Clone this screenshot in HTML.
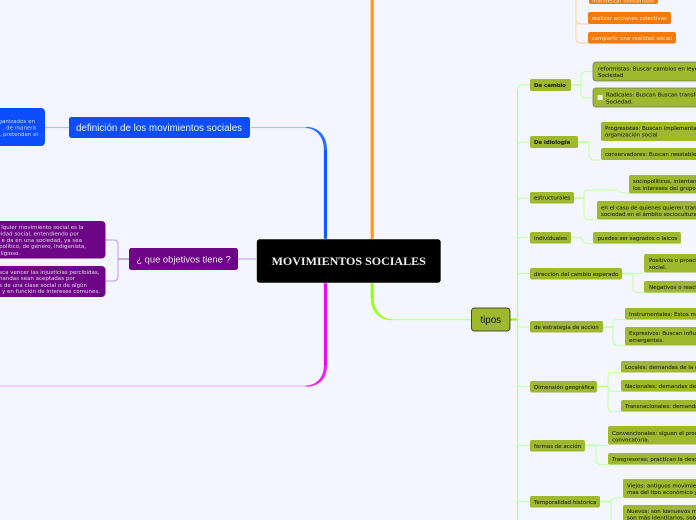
<!DOCTYPE html>
<html><head><meta charset="utf-8"><style>
html,body{margin:0;padding:0;width:696px;height:520px;overflow:hidden;background:#f4f6ff}
svg{display:block}
text{font-family:"DejaVu Sans",sans-serif;white-space:pre}
.g rect{fill:#9fb82e}
.gt text{fill:#20240c;font-size:5.5px;stroke:#20240c;stroke-width:.08}
.gt text.gb{font-weight:bold;font-size:5.4px}
.w text{fill:#e6d6ee;font-size:5.5px}
.c{fill:none;stroke:#c9ffa9;stroke-width:1.2}
</style></head><body>
<svg width="696" height="520" viewBox="0 0 696 520" xmlns="http://www.w3.org/2000/svg">
<rect width="696" height="520" fill="#f4f6ff"/>
<!-- main branches -->
<path d="M306 127.500H251" fill="none" stroke="#a8c4ff" stroke-width="1.200"/>
<path d="M325.500 239V150" fill="none" stroke="#0b5cff" stroke-width="3.200"/>
<path d="M327.100 150C327.100 135 318 126.900 306 126.900L306 128.100C316 128.100 323.900 137 323.900 150Z" fill="#2a6fff"/>
<path d="M372.200 0V239" fill="none" stroke="#ff9a14" stroke-width="3.200"/>
<path d="M389 319.500H471" fill="none" stroke="#c9ffa9" stroke-width="1.400"/>
<path d="M372.200 283V298" fill="none" stroke="#8cff00" stroke-width="3"/>
<path d="M370.700 298C370.700 312 380 320.100 391 320.100L391 318.900C382 318.900 373.700 310 373.700 298Z" fill="#9aff20"/>
<path d="M308 386H0" fill="none" stroke="#f6b4fa" stroke-width="1.300"/>
<path d="M325.500 283V365" fill="none" stroke="#f000f5" stroke-width="3.200"/>
<path d="M327.100 365C327.100 380 318 386.600 306 386.600L306 385.400C316 385.400 323.900 378 323.900 365Z" fill="#f020f5"/>
<path d="M238 259H256" fill="none" stroke="#c9a8f0" stroke-width="1.200"/>
<!-- left connectors -->
<path d="M45 127.500H69" fill="none" stroke="#a8c4ff" stroke-width="1.200"/>
<path d="M105 240H114Q118 240 118 244V276Q118 281 114 281H105" fill="none" stroke="#c9a8f0" stroke-width="1.200"/>
<path d="M118 259H129" fill="none" stroke="#b48ae8" stroke-width="1.400"/>
<!-- orange connectors -->
<path d="M576 0V19Q576 24 581 24H589M576 19V38Q576 43 581 43H590" fill="none" stroke="#fcd7a6" stroke-width="1.200"/>
<!-- green trunk -->
<path d="M510 319.500H517.500" fill="none" stroke="#8cff00" stroke-width="2"/>
<path d="M517.500 90Q517.500 85 522 85H530" class="c"/>
<path d="M517.500 90V520" fill="none" stroke="#b6ff7a" stroke-width="1.300"/>
<path class="c" d="M517.500 146Q517.500 142 522 142H530M517.500 202Q517.500 198 522 198H530M517.500 241Q517.500 237.500 522 237.500H530M517.500 277Q517.500 273.500 522 273.500H530M517.500 323Q517.500 327 522 327H530M517.500 383Q517.500 386.500 522 386.500H530M517.500 442Q517.500 445.500 522 445.500H530M517.500 498Q517.500 501.500 522 501.500H530"/>
<!-- secondary connectors -->
<path d="M571 85H581" stroke="#c9ffa9" stroke-width="2" fill="none"/>
<path class="c" d="M581 85V76Q581 71.500 586 71.500H593M581 85V93Q581 98 586 98H593"/>
<path d="M578 142H589" stroke="#c9ffa9" stroke-width="2" fill="none"/>
<path class="c" d="M589 142V155Q589 160 594 160H601"/>
<path d="M574 198H584" stroke="#c9ffa9" stroke-width="2" fill="none"/>
<path class="c" d="M584 198V194Q584 190 589 190H616Q621 193.500 629 193.500M584 198V214Q584 219.500 589 219.500H597"/>
<path class="c" d="M571 237.500H581Q583 243.500 588 243.500H682"/>
<path d="M622 273.500H633" stroke="#c9ffa9" stroke-width="2" fill="none"/>
<path class="c" d="M633 273.500H640Q644 273 644 272M633 273.500V288Q633 292.500 638 292.500H696"/>
<path d="M603 327H613" stroke="#c9ffa9" stroke-width="2" fill="none"/>
<path class="c" d="M613 327V323Q613 319.500 618 319.500H696M613 327V340Q613 345.500 618 345.500H625"/>
<path d="M597 386.500H608" stroke="#b6ff7a" stroke-width="1.600" fill="none"/>
<path class="c" d="M608 386.500V377Q608 372.500 613 372.500H621M608 386.500Q610 391.500 614 391.500H696M608 386.500V407Q608 411.500 613 411.500H696"/>
<path d="M585 445.500H596" stroke="#c9ffa9" stroke-width="2" fill="none"/>
<path class="c" d="M596 445.500H608M596 445.500V460Q596 464.500 601 464.500H696"/>
<path d="M600 501.500H611" stroke="#c9ffa9" stroke-width="2" fill="none"/>
<path class="c" d="M611 503V503Q611 498 616 498H623M611 503V520"/>

<!-- center -->
<rect x="256.500" y="239" width="184.500" height="44" rx="3" fill="#000" stroke="#fff" stroke-width=".6"/>
<text x="348.700" y="265" text-anchor="middle" style="font-family:'Liberation Serif',serif;font-weight:bold;font-size:12px" fill="#f0f0f0">MOVIMIENTOS SOCIALES</text>

<!-- blue -->
<rect x="-10" y="108" width="55" height="38" rx="4" fill="#0b4dff"/>
<rect x="69" y="117" width="181" height="21" rx="2.500" fill="#0b4dff"/>
<text x="159" y="131" text-anchor="middle" style="font-family:'Liberation Sans',sans-serif;font-size:9.800px" fill="#eef2ff">definición de los movimientos sociales</text>
<g style="font-size:5.500px" fill="#cfdcff" text-anchor="end">
<text x="35" y="123">ganizados en</text>
<text x="36" y="129.500">, de manera</text>
<text x="38" y="136">, pretenden el</text>
</g>

<!-- purple -->
<rect x="-10" y="221" width="115.500" height="37.500" rx="4" fill="#6d0586"/>
<rect x="-10" y="266" width="115.500" height="31" rx="4" fill="#6d0586"/>
<rect x="129" y="248" width="109" height="22" rx="2.500" fill="#6d0586"/>
<text x="183.500" y="262.500" text-anchor="middle" style="font-family:'Liberation Sans',sans-serif;font-size:9.400px" fill="#f0e6f5">¿ que objetivos tiene ?</text>
<g class="w" text-anchor="end">
<text x="83.500" y="229">lquier movimiento social es la</text>
<text x="79" y="235.500">lidad social, entendiendo por</text>
<text x="82" y="242">e da en una sociedad, ya sea</text>
<text x="86" y="248">político, de género, indigenista,</text>
<text x="20" y="255">ligioso.</text>
<text x="99.500" y="274">sca vencer las injusticias percibidas,</text>
<text x="75" y="280">mandas sean aceptadas por</text>
<text x="87" y="287">s de una clase social o de algún</text>
<text x="100" y="293">y en función de intereses comunes.</text>
</g>

<!-- orange -->
<g fill="#f57a0c">
<rect x="589" y="-8" width="69" height="12" rx="2"/>
<rect x="588" y="12" width="83" height="12" rx="2"/>
<rect x="588" y="32" width="88" height="11.500" rx="2"/>
</g>
<g style="font-size:5.500px" fill="#ffe6c8">
<text x="592" y="2.500">manifestar solidaridad</text>
<text x="591.500" y="20">realizar acciones colectivas</text>
<text x="591.500" y="40">compartir una realidad social</text>
</g>

<!-- tipos -->
<rect x="471.500" y="308" width="38.500" height="23" rx="3" fill="#9fb82e" stroke="#222" stroke-width=".8"/>
<text x="490.700" y="323" text-anchor="middle" style="font-family:'Liberation Sans',sans-serif;font-size:9.800px" fill="#111">tipos</text>

<!-- green boxes -->
<g class="g">
<rect x="530" y="79" width="41" height="12" rx="2"/>
<rect x="593" y="62" width="110" height="19" rx="3" stroke="#777" stroke-width=".8"/>
<rect x="593" y="88" width="110" height="19" rx="3" stroke="#777" stroke-width=".8"/>
<rect x="530" y="136" width="48" height="12" rx="2"/>
<rect x="601" y="122" width="100" height="19" rx="2"/>
<rect x="601" y="148" width="100" height="12" rx="2"/>
<rect x="530" y="192" width="44" height="11.500" rx="2"/>
<rect x="629" y="175" width="72" height="18.500" rx="2"/>
<rect x="597" y="201" width="104" height="18.500" rx="2"/>
<rect x="530" y="232" width="41" height="11.500" rx="2"/>
<rect x="593" y="232" width="88" height="11.500" rx="2"/>
<rect x="530" y="268" width="92" height="11.500" rx="2"/>
<rect x="644" y="254" width="60" height="18.500" rx="2"/>
<rect x="644" y="281" width="60" height="11.500" rx="2"/>
<rect x="530" y="321" width="73" height="11.500" rx="2"/>
<rect x="625" y="308" width="80" height="11.500" rx="2"/>
<rect x="625" y="327" width="80" height="18.500" rx="2"/>
<rect x="530" y="381" width="67" height="11.500" rx="2"/>
<rect x="621" y="361" width="80" height="11.500" rx="2"/>
<rect x="621" y="380" width="80" height="11.500" rx="2"/>
<rect x="621" y="400" width="80" height="11.500" rx="2"/>
<rect x="530" y="440" width="55" height="11.500" rx="2"/>
<rect x="608" y="426" width="95" height="18.500" rx="2"/>
<rect x="608" y="453" width="95" height="11.500" rx="2"/>
<rect x="530" y="496" width="70" height="11.500" rx="2"/>
<rect x="623" y="479" width="80" height="19" rx="2"/>
<rect x="623" y="505" width="80" height="25" rx="2"/>
</g>
<rect x="597.500" y="95" width="5" height="5" fill="#eef0e6" stroke="#ccc" stroke-width=".4"/>
<g class="gt">
<text x="534" y="87" class="gb">De cambio</text>
<text x="598" y="70.500">reformistas: Buscar cambios en leyes de la</text>
<text x="598" y="77">Sociedad</text>
<text x="606" y="96.500">Radicales: Buscan Buscan transformar la</text>
<text x="606" y="103.500">Sociedad.</text>
<text x="534" y="144" class="gb">De idiología</text>
<text x="605" y="130">Progresistas: Buscan implementar una nueva</text>
<text x="605" y="136.500">organización social</text>
<text x="605" y="156">conservadores: Buscan reestablecer el orden</text>
<text x="534" y="199.500">estructurales</text>
<text x="633" y="183">sociopolíticos, intentan alcanzar</text>
<text x="633" y="190">los intereses del grupo</text>
<text x="601" y="209.500">en el caso de quienes quieren transformar la</text>
<text x="601" y="216">sociedad en el ámbito sociocultural</text>
<text x="534" y="240">individuales</text>
<text x="597.500" y="240">puedes ser sagrados o laicos</text>
<text x="534" y="276">dirección del cambio esperado</text>
<text x="649" y="262">Positivos o proactivos: cambio</text>
<text x="649" y="269">social.</text>
<text x="649" y="289">Negativos o reactivos: evitar</text>
<text x="534" y="329">de estrategia de accion</text>
<text x="629" y="316">Instrumentales: Estos movimientos</text>
<text x="629" y="335">Expresivos: Buscan influir en</text>
<text x="629" y="342">emergentes.</text>
<text x="534" y="389">Dimensión geográfica</text>
<text x="625" y="369">Locales: demandas de la comunidad</text>
<text x="625" y="388">Nacionales: demandas de un país</text>
<text x="625" y="408">Transnacionales: demandas globales</text>
<text x="534" y="448">formas de acción</text>
<text x="612" y="435">Convencionales: siguen el proceso de</text>
<text x="612" y="441.500">convocatoria.</text>
<text x="612" y="461">Trasgresoras: practican la desobediencia</text>
<text x="534" y="504">Temporalidad historica</text>
<text x="627" y="487.500">Viejos: antiguos movimientos sociales</text>
<text x="627" y="494">mas del tipo económico y social</text>
<text x="627" y="513">Nuevos: son losnuevos movimientos</text>
<text x="627" y="519.500">son más identitarios, sobre todo</text>
</g>
</svg>
</body></html>
